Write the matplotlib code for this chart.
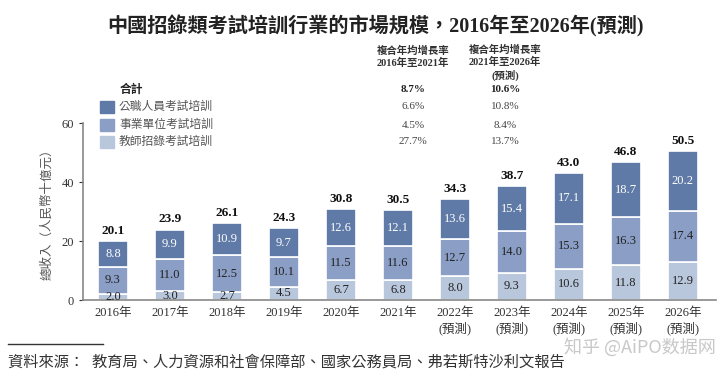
import matplotlib.pyplot as plt
import numpy as np

plt.rcParams['font.family'] = ['Liberation Serif', 'Noto Sans CJK TC', 'DejaVu Sans']

years = ['2016年', '2017年', '2018年', '2019年', '2020年', '2021年',
         '2022年\n(預測)', '2023年\n(預測)', '2024年\n(預測)', '2025年\n(預測)', '2026年\n(預測)']
teacher = [2.0, 3.0, 2.7, 4.5, 6.7, 6.8, 8.0, 9.3, 10.6, 11.8, 12.9]
institution = [9.3, 11.0, 12.5, 10.1, 11.5, 11.6, 12.7, 14.0, 15.3, 16.3, 17.4]
civil = [8.8, 9.9, 10.9, 9.7, 12.6, 12.1, 13.6, 15.4, 17.1, 18.7, 20.2]
totals = [20.1, 23.9, 26.1, 24.3, 30.8, 30.5, 34.3, 38.7, 43.0, 46.8, 50.5]

series_names = ['公職人員考試培訓', '事業單位考試培訓', '教師招錄考試培訓']
cagr_hist = ['6.6%', '4.5%', '27.7%']
cagr_fcst = ['10.8%', '8.4%', '13.7%']
total_cagr = ['8.7%', '10.6%']

c_dark = '#5f7aa7'
c_mid = '#8a9ec6'
c_light = '#b9c7dd'

fig = plt.figure(figsize=(7.2, 3.77), dpi=100)
ax = fig.add_axes([0.1153, 0.2042, 0.8791, 0.4695])

x = np.arange(len(years))
w = 0.54
b1 = ax.bar(x, teacher, w, color=c_light, edgecolor='white', linewidth=1.2)
b2 = ax.bar(x, institution, w, bottom=teacher, color=c_mid, edgecolor='white', linewidth=1.2)
bottom3 = np.array(teacher) + np.array(institution)
b3 = ax.bar(x, civil, w, bottom=bottom3, color=c_dark, edgecolor='white', linewidth=1.2)

ax.bar_label(b1, labels=[f'{v:.1f}' for v in teacher], label_type='center', fontsize=9, color='#222222')
ax.bar_label(b2, labels=[f'{v:.1f}' for v in institution], label_type='center', fontsize=9, color='#222222')
ax.bar_label(b3, labels=[f'{v:.1f}' for v in civil], label_type='center', fontsize=9, color='white')
for xi, t in zip(x, totals):
    ax.annotate(f'{t:.1f}', (xi, t), xytext=(0, 3), textcoords='offset points',
                ha='center', va='bottom', fontsize=9.5, fontweight='bold', color='#111111')

ax.set_xlim(-0.526, 10.58)
ax.set_ylim(0, 60)
ax.set_yticks([0, 20, 40, 60])
ax.set_xticks(x)
ax.set_xticklabels(years, fontsize=9, color='#333333', linespacing=1.2)
ax.tick_params(axis='x', length=0, pad=5)
ax.tick_params(axis='y', labelsize=9, colors='#333333', length=3)
for s in ['top', 'right']:
    ax.spines[s].set_visible(False)
for s in ['left', 'bottom']:
    ax.spines[s].set_color('#888888')
    ax.spines[s].set_linewidth(1.2)
ax.set_ylabel('總收入（人民幣十億元）', fontsize=9, color='#555555', labelpad=6)

# title
fig.text(0.521, 0.931, '中國招錄類考試培訓行業的市場規模，2016年至2026年(預測)',
         ha='center', va='center', fontsize=14.5, fontweight='bold', color='#222222')

# CAGR header
col1, col2 = 413 / 720, 505 / 720
def fy(py):
    return 1 - py / 377
fig.text(col1, fy(57), '複合年均增長率\n2016年至2021年', ha='center', va='center',
         fontsize=7.5, fontweight='bold', color='#333333', linespacing=1.3)
fig.text(col2, fy(63), '複合年均增長率\n2021年至2026年\n(預測)', ha='center', va='center',
         fontsize=7.5, fontweight='bold', color='#333333', linespacing=1.3)
fig.text(120 / 720, fy(90), '合計', ha='left', va='center', fontsize=8.5, fontweight='bold', color='#222222')
fig.text(col1, fy(90), total_cagr[0], ha='center', va='center', fontsize=8, fontweight='bold', color='#222222')
fig.text(col2, fy(90), total_cagr[1], ha='center', va='center', fontsize=8, fontweight='bold', color='#222222')

rows = [107, 125, 142]
for name, c, h, f, ry in zip(series_names, [c_dark, c_mid, c_light], cagr_hist, cagr_fcst, rows):
    fig.patches.append(plt.Rectangle((100 / 720, fy(ry + 6)), 14 / 720, 12 / 377,
                                     transform=fig.transFigure, color=c))
    fig.text(119 / 720, fy(ry), name, ha='left', va='center', fontsize=8.5, color='#555555')
    fig.text(col1, fy(ry), h, ha='center', va='center', fontsize=8, color='#444444')
    fig.text(col2, fy(ry), f, ha='center', va='center', fontsize=8, color='#444444')

# footnote
fig.add_artist(plt.Line2D([8 / 720, 103 / 720], [fy(344), fy(344)], transform=fig.transFigure,
                          color='#333333', linewidth=1))
fig.text(8 / 720, fy(362), '資料來源：  教育局、人力資源和社會保障部、國家公務員局、弗若斯特沙利文報告',
         ha='left', va='center', fontsize=11, style='italic', color='#333333')
fig.text(640 / 720, fy(347), '知乎 @AiPO数据网', ha='center', va='center', fontsize=13,
         color='#c8c8c8', family=['Noto Sans CJK SC', 'DejaVu Sans'])

fig.savefig('out.png', dpi=100)
